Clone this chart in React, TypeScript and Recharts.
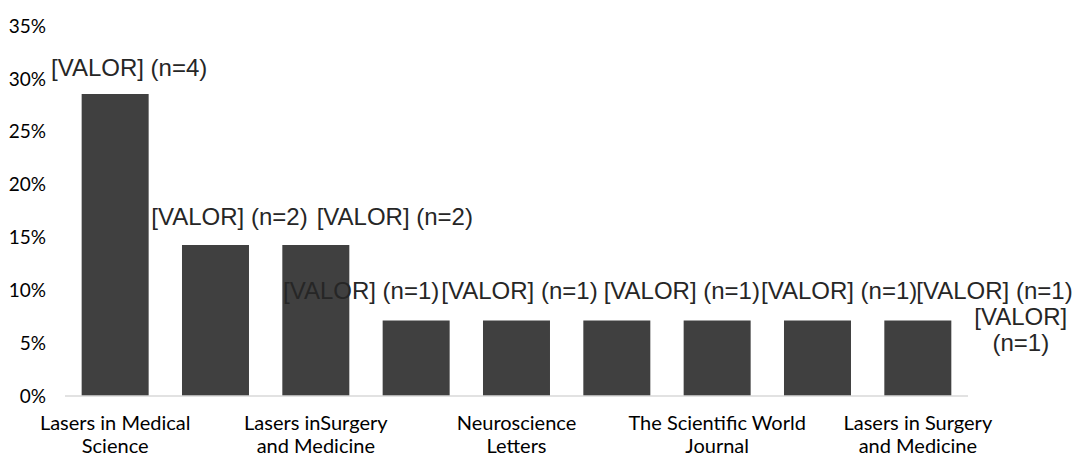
import React from 'react';
import { BarChart, Bar, XAxis, YAxis, LabelList } from 'recharts';

// ---- data ----
const categories = ['J1', 'J2', 'J3', 'J4', 'J5', 'J6', 'J7', 'J8', 'J9'];
const shares = [28.57, 14.29, 14.29, 7.14, 7.14, 7.14, 7.14, 7.14, 7.14];
const counts = [4, 2, 2, 1, 1, 1, 1, 1, 1];
const xTickLabels = [
  'Lasers in Medical\nScience',
  '',
  'Lasers inSurgery\nand Medicine',
  '',
  'Neuroscience\nLetters',
  '',
  'The Scientific World\nJournal',
  '',
  'Lasers in Surgery\nand Medicine',
];
const yTicks = [0, 5, 10, 15, 20, 25, 30, 35];

// label placement relative to each bar (layout, not data)
const labelDx = [14, 14, 79, -55, 3, 65, 122, 177, 103];
const labelDy = [-26, -28, -28, -30, -30, -30, -30, -30, -4];
const labelWrap = [false, false, false, false, false, false, false, false, true];

const table = categories.map((c, i) => ({ cat: c, share: shares[i], n: counts[i] }));

const XTick = (props: any) => {
  const { x, y, payload } = props;
  const i = categories.indexOf(payload.value);
  const text = xTickLabels[i] || '';
  if (!text) return null;
  const lines = text.split('\n');
  return (
    <text x={x} y={y} textAnchor="middle" fill="#000" style={{ fontFamily: 'Lato', fontSize: 20 }}>
      {lines.map((ln: string, k: number) => (
        <tspan key={k} x={x} y={y + 34 + k * 23}>{ln}</tspan>
      ))}
    </text>
  );
};

const renderLabel = (props: any) => {
  const { x, y, width, index } = props;
  const i = index;
  const cx = Number(x) + Number(width) / 2 + labelDx[i];
  const cy = Number(y) + labelDy[i];
  const txt = `[VALOR] (n=${counts[i]})`;
  const style = { fontFamily: '"Liberation Sans", Arial, sans-serif', fontSize: 24 } as any;
  if (labelWrap[i]) {
    return (
      <text key={i} x={cx} y={cy} textAnchor="middle" fill="#262626" style={style}>
        <tspan x={cx} dy="0.35em">[VALOR]</tspan>
        <tspan x={cx} dy="1.1em">{`(n=${counts[i]})`}</tspan>
      </text>
    );
  }
  return (
    <text key={i} x={cx} y={cy} dy="0.35em" textAnchor="middle" fill="#262626" style={style}>
      {txt}
    </text>
  );
};

export default function App() {
  return (
    <div style={{ position: 'absolute', left: 0, top: 0, background: '#fff' }}>
      <BarChart
        width={1077}
        height={458}
        data={table}
        margin={{ top: 26, right: 109, bottom: 0, left: 0 }}
        barCategoryGap="16.6%"
      >
        <XAxis
          dataKey="cat"
          interval={0}
          tick={<XTick />}
          tickLine={false}
          tickSize={0}
          tickMargin={0}
          height={62}
          axisLine={{ stroke: '#d9d9d9', strokeWidth: 1.5 }}
        />
        <YAxis
          type="number"
          domain={[0, 35]}
          ticks={yTicks}
          interval={0}
          width={65}
          axisLine={false}
          tickLine={false}
          tickSize={0}
          tickMargin={19}
          tickFormatter={(v: number) => `${v}%`}
          tick={{ fill: '#000', fontFamily: 'Lato', fontSize: 19 }}
        />
        <Bar dataKey="share" fill="#404040" isAnimationActive={false}>
          <LabelList dataKey="n" content={renderLabel} />
        </Bar>
      </BarChart>
    </div>
  );
}
